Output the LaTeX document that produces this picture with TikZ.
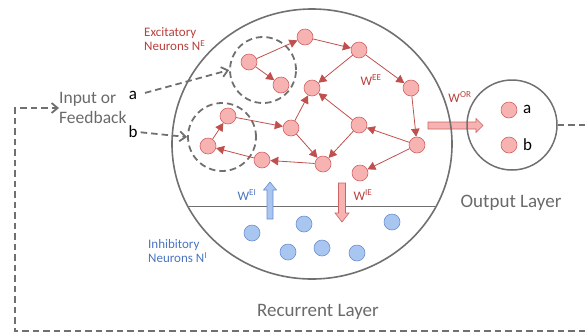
\documentclass[tikz,border=0pt]{standalone}
\usepackage{fontspec}
\setmainfont{Carlito}
\usetikzlibrary{arrows.meta,shapes.geometric}
\definecolor{gline}{HTML}{707070}
\definecolor{gtext}{HTML}{6A6A6A}
\definecolor{rline}{HTML}{C0504D}
\definecolor{rtxt}{HTML}{B8403D}
\definecolor{rfill}{HTML}{F7B2B2}
\definecolor{rdraw}{HTML}{CF6262}
\definecolor{bfill}{HTML}{A8C6F0}
\definecolor{bdraw}{HTML}{6A8ED2}
\definecolor{btext}{HTML}{4A74C2}
\begin{document}
\begin{tikzpicture}[x=1pt,y=-1pt,
 eneuron/.style={circle,minimum size=16pt,inner sep=0pt,draw=rdraw,fill=rfill,line width=0.6pt},
 ineuron/.style={circle,minimum size=16pt,inner sep=0pt,draw=bdraw,fill=bfill,line width=0.6pt},
 syn/.style={draw=rline,line width=0.8pt,-{Triangle[length=8pt,width=8.5pt]}},
 fb/.style={draw=gline,line width=1.8pt,dash pattern=on 6.5pt off 4pt},
 fbarrow/.style={fb,-{Straight Barb[length=6pt,width=10pt]}},
 dashcirc/.style={circle,draw=gline,line width=1.8pt,dash pattern=on 6.5pt off 4pt,inner sep=0pt},
 rtext/.style={text=rtxt,font=\fontsize{13}{14}\selectfont,inner sep=0pt},
 btxt/.style={text=btext,font=\fontsize{13}{14}\selectfont,inner sep=0pt},
 bigtext/.style={text=gtext,font=\fontsize{19}{21}\selectfont,inner sep=0pt},
 intext/.style={text=gtext,font=\fontsize{17.5}{20}\selectfont,inner sep=0pt,align=left},
 ab/.style={text=black,font=\fontsize{17}{18}\selectfont,inner sep=0pt},
 rblock/.style={fill=rfill,draw=rdraw,line width=0.6pt},
 bblock/.style={fill=bfill,draw=bdraw,line width=0.6pt}
]
\useasboundingbox (0,0) rectangle (585,333);

% output block arrow (under circles)
\filldraw[rblock] (428,122) -- (476,122) -- (476,118.5) -- (483,125.5) -- (476,132.5) -- (476,129) -- (428,129) -- cycle;

% recurrent layer
\node[ellipse,draw=gline,line width=1.6pt,minimum width=280pt,minimum height=270pt,inner sep=0pt] (rec) at (312,144) {};
\coordinate (hl) at (189,206);
\coordinate (hr) at (435,206);
\draw[gline,line width=0.8pt] (hl) -- (hr);

% output layer
\node[circle,draw=gline,line width=1.5pt,minimum size=90pt,inner sep=0pt] (outl) at (512,125) {};

% dashed input groups
\node[dashcirc,minimum size=66pt] (dc1) at (263,70) {};
\node[dashcirc,minimum size=68pt] (dc2) at (222,137) {};

% block arrows E<->I
\filldraw[bblock] (267,219) -- (267,190) -- (263.5,190) -- (270,182) -- (276.5,190) -- (273,190) -- (273,219) -- cycle;
\filldraw[rblock] (338.5,183) -- (338.5,213) -- (335,213) -- (342,222) -- (349,213) -- (345.5,213) -- (345.5,183) -- cycle;

% excitatory neurons
\node[eneuron] (n1) at (249,62) {};
\node[eneuron] (n2) at (281,85) {};
\node[eneuron] (n3) at (228,116) {};
\node[eneuron] (n4) at (208,146) {};
\node[eneuron] (n5) at (262,160) {};
\node[eneuron] (n6) at (291,128) {};
\node[eneuron] (n7) at (305,37) {};
\node[eneuron] (n8) at (359,50) {};
\node[eneuron] (n9) at (312,88) {};
\node[eneuron] (n10) at (411,88) {};
\node[eneuron] (n11) at (359,125) {};
\node[eneuron] (n12) at (417,145) {};
\node[eneuron] (n13) at (323,164) {};
\node[eneuron] (n14) at (360,173) {};

\foreach \a/\b in {n1/n2,n1/n7,n7/n8,n8/n9,n8/n10,n10/n12,n12/n11,n11/n9,n6/n9,n6/n13,n11/n13,n12/n14,n3/n6,n4/n3,n5/n4,n13/n5}
  \draw[syn] (\a) -- (\b);

% inhibitory neurons
\node[ineuron] (i1) at (252,233) {};
\node[ineuron] (i2) at (304,224) {};
\node[ineuron] (i3) at (288,252) {};
\node[ineuron] (i4) at (322,248) {};
\node[ineuron] (i5) at (357,253) {};
\node[ineuron] (i6) at (392,222) {};

% output neurons
\node[eneuron] (oa) at (509,110) {};
\node[eneuron] (ob) at (509,145) {};
\node[ab,anchor=west] (la) at (523,109) {a};
\node[ab,anchor=west] (lb) at (523,145) {b};

% labels
\node[rtext,anchor=west,align=left] (exc) at (144,39) {Excitatory\\Neurons N\textsuperscript{E}};
\node[btxt,anchor=west,align=left] (inh) at (148,251.5) {Inhibitory\\Neurons N\textsuperscript{I}};
\node[rtext] (wee) at (371,80) {W\textsuperscript{EE}};
\node[rtext] (wor) at (460,97) {W\textsuperscript{OR}};
\node[btxt] (wei) at (247,195) {W\textsuperscript{EI}};
\node[rtext] (wie) at (363,195) {W\textsuperscript{IE}};
\node[bigtext] (reclab) at (318,312) {Recurrent Layer};
\node[bigtext] (outlab) at (511,203) {Output Layer};

% input
\node[intext,anchor=west] (inp) at (59,108) {Input or\\Feedback};
\node[ab] (ina) at (133,95) {a};
\node[ab] (inb) at (133,132) {b};
\draw[fbarrow,shorten <=8pt] (ina.east) -- (dc1.west);
\draw[fbarrow,shorten <=3pt] (inb.east) -- (dc2.west);

% feedback loop
\coordinate (fbr) at (585,125);
\coordinate (fb1) at (585,331);
\coordinate (fb2) at (15,331);
\coordinate (fb3) at (15,108);
\draw[fb] (outl.east) -- (fbr);
\draw[fbarrow] (fb1) -- (fb2) -- (fb3) -- (inp.west);
\end{tikzpicture}
\end{document}
